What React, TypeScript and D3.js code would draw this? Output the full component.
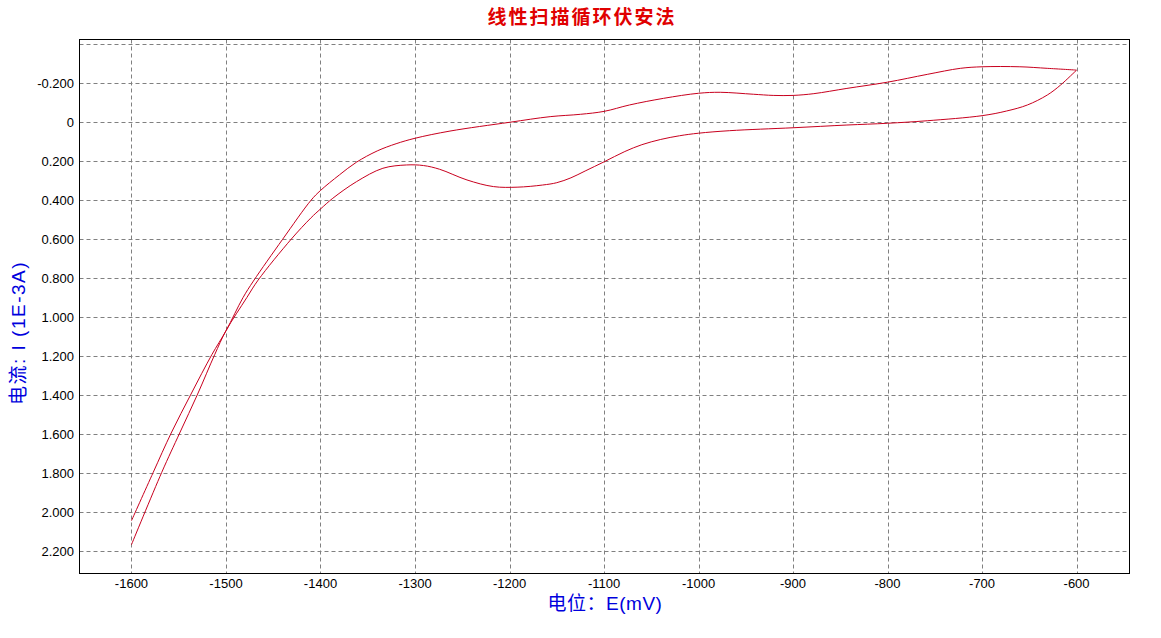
import React, { useEffect, useRef } from 'react';
import * as d3 from 'd3';

// forward branch (smaller current), potential in mV, current in 1E-3 A
const potentialsA = [-1600, -1577, -1558, -1537, -1515, -1500, -1482, -1471, -1440, -1410, -1400, -1380, -1362, -1340, -1320, -1300, -1263, -1200, -1157, -1125, -1100, -1073, -1037, -1000, -977, -942, -921, -900, -878, -843, -800, -758, -723, -700, -660, -631, -600];
const currentsA = [2.045, 1.797, 1.595, 1.395, 1.193, 1.07, 0.9, 0.815, 0.6, 0.4, 0.35, 0.27, 0.205, 0.147, 0.11, 0.082, 0.045, 0.0, -0.029, -0.041, -0.056, -0.089, -0.123, -0.149, -0.154, -0.144, -0.138, -0.138, -0.147, -0.174, -0.206, -0.246, -0.277, -0.285, -0.285, -0.277, -0.268];

// reverse branch (larger current)
const potentialsB = [-1600, -1568, -1549, -1530, -1512, -1500, -1478, -1466, -1431, -1410, -1400, -1387, -1362, -1334, -1309, -1291, -1274, -1245, -1217, -1192, -1165, -1150, -1135, -1120, -1100, -1078, -1060, -1040, -1020, -1000, -967, -900, -843, -800, -758, -700, -674, -652, -631, -617, -600];
const currentsB = [2.168, 1.797, 1.595, 1.395, 1.193, 1.07, 0.9, 0.81, 0.6, 0.49, 0.445, 0.39, 0.305, 0.236, 0.219, 0.222, 0.241, 0.296, 0.33, 0.333, 0.322, 0.31, 0.285, 0.25, 0.203, 0.15, 0.115, 0.088, 0.069, 0.056, 0.043, 0.028, 0.014, 0.005, -0.008, -0.034, -0.058, -0.089, -0.14, -0.191, -0.268];

const xTicks = [-1600, -1500, -1400, -1300, -1200, -1100, -1000, -900, -800, -700, -600];
const yGrid = [-0.4, -0.2, 0, 0.2, 0.4, 0.6, 0.8, 1.0, 1.2, 1.4, 1.6, 1.8, 2.0, 2.2];
const yLabels = [-0.2, 0, 0.2, 0.4, 0.6, 0.8, 1.0, 1.2, 1.4, 1.6, 1.8, 2.0, 2.2];

const title = '线性扫描循环伏安法';
const xTitle = '电位：E(mV)';
const yTitle = '电流: I (1E-3A)';

export default function App() {
  const ref = useRef<SVGSVGElement>(null);

  useEffect(() => {
    const svg = d3.select(ref.current);
    svg.selectAll('*').remove();

    const left = 79.5, right = 1129.5, top = 39.5, bottom = 573.5;

    const x = d3.scaleLinear().domain([-1655, -544]).range([left, right]);
    const y = d3.scaleLinear().domain([-0.425, 2.316]).range([top, bottom]);

    const grid = svg.append('g')
      .attr('stroke', '#808080')
      .attr('stroke-dasharray', '4,3')
      .attr('stroke-width', 1);

    grid.selectAll('line.h')
      .data(yGrid)
      .enter()
        .append('line')
        .attr('x1', left)
        .attr('x2', right)
        .attr('y1', d => Math.round(y(d)) + 0.5)
        .attr('y2', d => Math.round(y(d)) + 0.5);

    grid.selectAll('line.v')
      .data(xTicks)
      .enter()
        .append('line')
        .attr('y1', top)
        .attr('y2', bottom)
        .attr('x1', d => Math.round(x(d)) + 0.5)
        .attr('x2', d => Math.round(x(d)) + 0.5);

    svg.append('rect')
      .attr('x', left)
      .attr('y', top)
      .attr('width', right - left)
      .attr('height', bottom - top)
      .attr('fill', 'none')
      .attr('stroke', '#000')
      .attr('stroke-width', 1);

    const line = d3.line<[number, number]>()
      .x(d => x(d[0]))
      .y(d => y(d[1]))
      .curve(d3.curveCatmullRom);

    const branchA = potentialsA.map((p, i) => [p, currentsA[i]] as [number, number]);
    const branchB = potentialsB.map((p, i) => [p, currentsB[i]] as [number, number]);

    svg.append('g')
      .selectAll('path')
      .data([branchA, branchB])
      .enter()
        .append('path')
        .attr('d', d => line(d))
        .attr('fill', 'none')
        .attr('stroke', '#c8001e')
        .attr('stroke-width', 1);

    // tick labels
    svg.append('g')
      .selectAll('text')
      .data(xTicks)
      .enter()
        .append('text')
        .attr('x', d => x(d))
        .attr('y', 588)
        .attr('text-anchor', 'middle')
        .attr('font-family', 'Liberation Sans, Arial, sans-serif')
        .attr('font-size', 13)
        .attr('fill', '#000')
        .text(d => String(d));

    svg.append('g')
      .selectAll('text')
      .data(yLabels)
      .enter()
        .append('text')
        .attr('x', 74)
        .attr('y', d => y(d) + 4.7)
        .attr('text-anchor', 'end')
        .attr('font-family', 'Liberation Sans, Arial, sans-serif')
        .attr('font-size', 13)
        .attr('fill', '#000')
        .text(d => d === 0 ? '0' : d.toFixed(3));

    // titles
    svg.append('text')
      .attr('x', 582)
      .attr('y', 24)
      .attr('text-anchor', 'middle')
      .attr('font-family', 'Noto Sans CJK SC, sans-serif')
      .attr('font-weight', 'bold')
      .attr('font-size', 19)
      .attr('letter-spacing', 2)
      .attr('fill', '#e00000')
      .text(title);

    svg.append('text')
      .attr('x', 605)
      .attr('y', 610)
      .attr('text-anchor', 'middle')
      .attr('font-family', 'Liberation Sans, Noto Sans CJK SC, sans-serif')
      .attr('font-size', 19)
      .attr('letter-spacing', 0.5)
      .attr('fill', '#0000dd')
      .text(xTitle);

    svg.append('text')
      .attr('transform', 'translate(25,333) rotate(-90)')
      .attr('text-anchor', 'middle')
      .attr('font-family', 'Liberation Sans, Noto Sans CJK SC, sans-serif')
      .attr('font-size', 19)
      .attr('letter-spacing', 1.5)
      .attr('fill', '#0000dd')
      .text(yTitle);
  }, []);

  return (
    <svg ref={ref} width={1161} height={638}
      style={{ position: 'absolute', left: 0, top: 0, background: '#fff' }} />
  );
}
